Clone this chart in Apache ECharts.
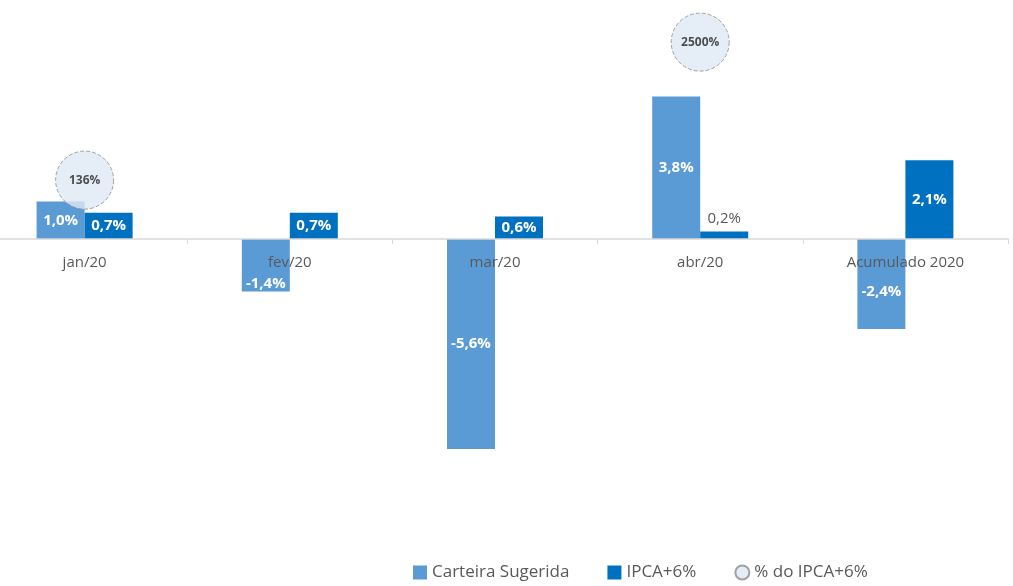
<!DOCTYPE html>
<html>
<head>
<meta charset="utf-8">
<script src="https://cdn.jsdelivr.net/npm/echarts@6/dist/echarts.min.js"></script>
<style>
    html, body { margin: 0; padding: 0; background: #fff; }
    #chart { width: 1013px; height: 586px; }
</style>
</head>
<body>
<div id="chart"></div>
<script>
    // categorias e valores
    var categories = ['jan/20', 'fev/20', 'mar/20', 'abr/20', 'Acumulado 2020'];
    var carteira = [1.0, -1.4, -5.6, 3.8, -2.4];
    var ipca = [0.7, 0.7, 0.6, 0.2, 2.1];
    // % do IPCA+6% (so aparece em jan e abr) e altura da bolha no eixo
    var pctIpca = [136, null, null, 2500, null];
    var bolhaY = [1.57, null, null, 5.25, null];

    var fmt = function (v) {
        return v.toFixed(1).replace('.', ',') + '%';
    };

    var chart = echarts.init(document.getElementById('chart'));

    var carteiraData = carteira.map(function (v, i) {
        var item = { value: v };
        if (i === 1) item.label = { offset: [0, 18] };
        if (i === 4) item.label = { offset: [0, 8] };
        return item;
    });
    var ipcaData = ipca.map(function (v) {
        var item = { value: v };
        if (v < 0.4) {
            item.label = { position: 'top', color: '#595959', fontWeight: 'normal' };
        }
        return item;
    });
    var bolhaData = bolhaY.map(function (v, i) {
        return v === null ? null : { value: v, pct: pctIpca[i] };
    });

    var option = {
        animation: false,
        textStyle: { fontFamily: 'Open Sans' },
        grid: { left: -18, right: 5, top: 14, bottom: 47, outerBoundsMode: 'none', containLabel: false },
        legend: {
            bottom: 0,
            left: 408,
            itemGap: 38,
            itemWidth: 14,
            itemHeight: 14,
            textStyle: { color: '#595959', fontSize: 17, fontFamily: 'Open Sans' },
            data: [
                { name: 'Carteira Sugerida', icon: 'rect' },
                { name: 'IPCA+6%', icon: 'rect' },
                { name: '% do IPCA+6%', icon: 'circle' }
            ]
        },
        xAxis: {
            type: 'category',
            data: categories,
            position: 'bottom',
            offset: -300,
            z: 10,
            axisLine: { onZero: false, lineStyle: { color: '#d9d9d9', width: 1.5 } },
            axisTick: { show: true, length: 5, lineStyle: { color: '#d9d9d9' } },
            axisLabel: { color: '#595959', fontSize: 15, margin: 16 }
        },
        yAxis: {
            type: 'value',
            min: -8,
            max: 6,
            show: false,
            splitLine: { show: false }
        },
        series: [
            {
                name: 'Carteira Sugerida',
                type: 'bar',
                barWidth: 48,
                barGap: '0%',
                itemStyle: { color: '#5b9bd5' },
                label: {
                    show: true,
                    position: 'inside',
                    color: '#fff',
                    fontWeight: 'bold',
                    fontSize: 15,
                    formatter: function (p) { return fmt(p.value); }
                },
                data: carteiraData
            },
            {
                name: 'IPCA+6%',
                type: 'bar',
                barWidth: 48,
                itemStyle: { color: '#0070c0' },
                label: {
                    show: true,
                    position: 'inside',
                    color: '#fff',
                    fontWeight: 'bold',
                    fontSize: 15,
                    formatter: function (p) { return fmt(p.value); }
                },
                data: ipcaData
            },
            {
                name: '% do IPCA+6%',
                type: 'scatter',
                symbol: 'circle',
                symbolSize: 58,
                z: 5,
                itemStyle: {
                    color: '#dfe9f5',
                    borderColor: '#8c8c8c',
                    borderWidth: 1,
                    borderType: 'dashed'
                },
                label: {
                    show: true,
                    position: 'inside',
                    color: '#262626',
                    fontWeight: 'bold',
                    fontSize: 12,
                    formatter: function (p) { return p.data.pct + '%'; }
                },
                data: bolhaData
            }
        ]
    };

    chart.setOption(option);
</script>
</body>
</html>
